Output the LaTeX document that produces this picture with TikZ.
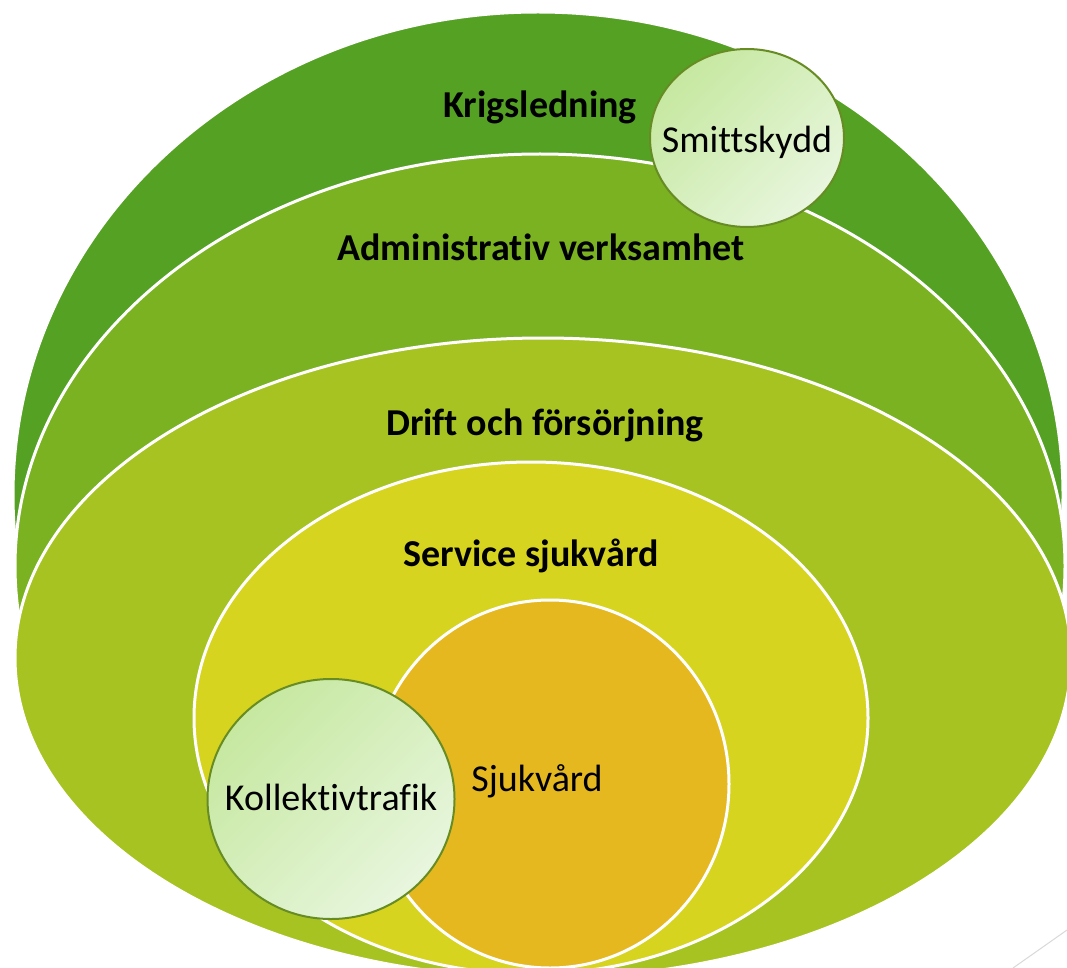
\documentclass[tikz,border=0pt]{standalone}
\usepackage{fontspec}
\setmainfont[Ligatures={NoCommon,NoContextual}]{Carlito}
\usetikzlibrary{shapes.geometric}
\definecolor{krig}{RGB}{84,161,36}
\definecolor{admin}{RGB}{122,178,33}
\definecolor{drift}{RGB}{166,195,33}
\definecolor{service}{RGB}{214,212,30}
\definecolor{sjuk}{RGB}{229,184,32}
\definecolor{bubbleA}{RGB}{198,232,160}
\definecolor{bubbleB}{RGB}{232,246,222}
\definecolor{bubbleline}{RGB}{104,140,36}

\begin{document}
\begin{tikzpicture}[x=1pt,y=-1pt]
				\tikzset{ring/.style={draw=white,line width=3pt},
					ringtext/.style={anchor=base,font=\fontsize{38}{45}\selectfont\bfseries,text=black},
					bubbletext/.style={anchor=base,font=\fontsize{38}{45}\selectfont,text=black},
					bubble/.style={ellipse,draw=bubbleline,line width=2pt,top color=bubbleA,bottom color=bubbleB,shading angle=45,inner sep=0pt}}
				\clip (0,0) rectangle (1067,968);
				\fill[white] (0,0) rectangle (1067,968);
				% nested levels, outermost first
				\filldraw[ring,fill=krig] (538,495) ellipse [x radius=525,y radius=483];
				\filldraw[ring,fill=admin] (540,566) ellipse [x radius=525,y radius=412];
				\filldraw[ring,fill=drift] (543,658) ellipse [x radius=528,y radius=320];
				\filldraw[ring,fill=service] (531,718) ellipse [x radius=337,y radius=256];
				\filldraw[ring,fill=sjuk] (550,784) ellipse [x radius=179,y radius=184];
				% the two bubbles on top
				\node [bubble, minimum width=247pt, minimum height=240pt] (kollektiv) at (331,799) {};
				\node [bubble, minimum width=194pt, minimum height=178pt] (smitta) at (747,138) {};
				\node [ringtext] (krigsledning) at (540,118) {Krigsledning};
				\node [ringtext] (administrativ) at (541,260) {Administrativ verksamhet};
				\node [ringtext] (drift) at (545,435) {Drift och försörjning};
				\node [ringtext] (service) at (531,566) {Service sjukvård};
				\node [bubbletext] (sjukvard) at (537,791) {Sjukvård};
				\node [bubbletext] at (kollektiv.center |- 0,810) {Kollektivtrafik};
				\node [bubbletext] at (smitta.center |- 0,153) {Smittskydd};
				\draw[black!15,line width=1pt] (1013,968) -- (1067,930);
			\end{tikzpicture}
\end{document}
